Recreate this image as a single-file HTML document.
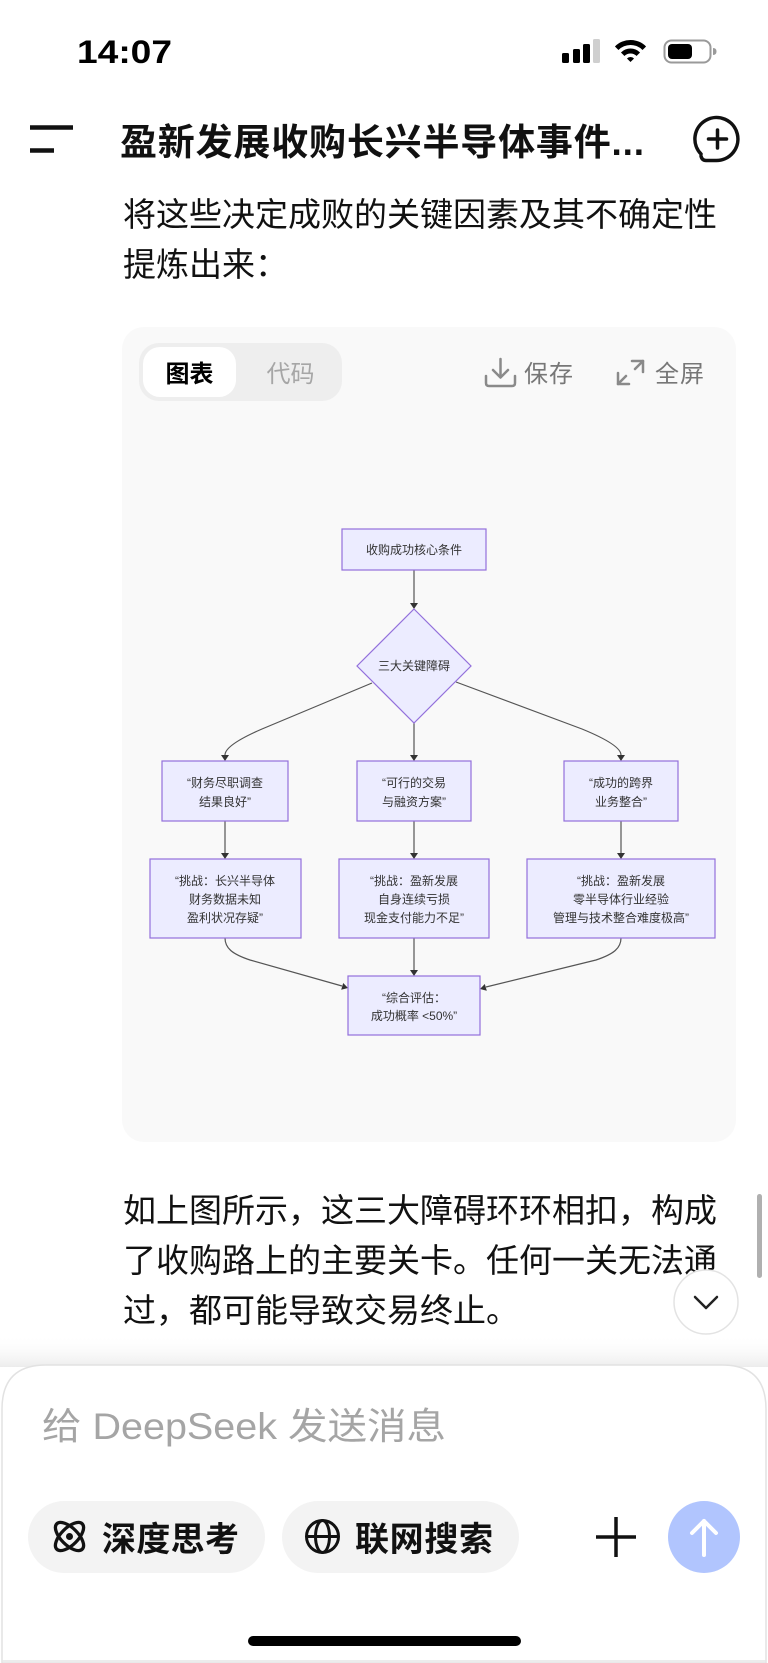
<!DOCTYPE html>
<html>
<head>
<meta charset="utf-8">
<style>
  html,body{margin:0;padding:0;background:#fff;}
  body{width:768px;height:1663px;overflow:hidden;position:relative;}
  svg{position:absolute;left:0;top:0;display:block;}
</style>
</head>
<body>
<svg width="768" height="1663" viewBox="0 0 768 1663" xmlns="http://www.w3.org/2000/svg" font-family="'Liberation Sans','Noto Sans CJK SC',sans-serif">
  <defs>
    <linearGradient id="fade" x1="0" y1="0" x2="0" y2="1">
      <stop offset="0" stop-color="#ffffff" stop-opacity="0"/>
      <stop offset="1" stop-color="#ececec" stop-opacity="1"/>
    </linearGradient>
  </defs>

  <!-- Status bar -->
  <text x="77" y="63" font-size="32" font-weight="700" fill="#000" textLength="95" lengthAdjust="spacingAndGlyphs">14:07</text>
  <rect x="562" y="53" width="7" height="10" rx="1.5" fill="#000"/>
  <rect x="573" y="49" width="7" height="14" rx="1.5" fill="#000"/>
  <rect x="583" y="44" width="7" height="19" rx="1.5" fill="#000"/>
  <rect x="593" y="39" width="7" height="24" rx="1.5" fill="#cfcfcf"/>
  <path d="M614.94,46.44 A22,22 0 0 1 646.06,46.44 L642.52,49.98 A17,17 0 0 0 618.48,49.98 Z" fill="#000"/>
  <path d="M620.95,52.45 A13.5,13.5 0 0 1 640.05,52.45 L636.51,55.99 A8.5,8.5 0 0 0 624.49,55.99 Z" fill="#000"/>
  <path d="M630.5,62 L626.96,58.46 A5,5 0 0 1 634.04,58.46 Z" fill="#000"/>
  <rect x="664.5" y="40.5" width="46" height="22" rx="7" fill="none" stroke="#9a9a9a" stroke-width="2"/>
  <rect x="668" y="44" width="24" height="15" rx="4" fill="#000"/>
  <path d="M713,48 Q716.5,48 716.5,51.5 Q716.5,55 713,55 Z" fill="#9a9a9a"/>

  <!-- Header -->
  <line x1="30" y1="127.5" x2="73" y2="127.5" stroke="#111" stroke-width="4.5"/>
  <line x1="30" y1="150.5" x2="54" y2="150.5" stroke="#111" stroke-width="4.5"/>
  <text x="120" y="155" font-size="37" font-weight="700" fill="#111" textLength="524" lengthAdjust="spacing">盈新发展收购长兴半导体事件...</text>
  <path d="M701,154 A21.5,21.5 0 1 1 716,160.5 L706,160.5 Q702,160.5 701,156" fill="none" stroke="#111" stroke-width="3.5" stroke-linecap="round" stroke-linejoin="round"/>
  <line x1="717.5" y1="130" x2="717.5" y2="148" stroke="#111" stroke-width="3.5" stroke-linecap="round"/>
  <line x1="708.5" y1="139" x2="726.5" y2="139" stroke="#111" stroke-width="3.5" stroke-linecap="round"/>

  <!-- Paragraph 1 -->
  <text x="123" y="226" font-size="33" fill="#111" textLength="594" lengthAdjust="spacing">将这些决定成败的关键因素及其不确定性</text>
  <text x="123" y="276" font-size="33" fill="#111">提炼出来：</text>

  <!-- Card -->
  <rect x="122" y="327" width="614" height="815" rx="22" fill="#f9f9f9"/>
  <rect x="139" y="343" width="203" height="58" rx="20" fill="#eeeeee"/>
  <rect x="143" y="347" width="93" height="50" rx="17" fill="#ffffff"/>
  <text x="189.5" y="382" font-size="24" font-weight="700" fill="#000" text-anchor="middle">图表</text>
  <text x="290.5" y="382" font-size="24" fill="#a6a6a6" text-anchor="middle">代码</text>

  <!-- save icon -->
  <g fill="none" stroke="#8a8a8a" stroke-width="2.5" stroke-linecap="round" stroke-linejoin="round">
    <line x1="500.5" y1="359" x2="500.5" y2="377"/>
    <polyline points="493,370 500.5,377.5 508,370"/>
    <path d="M486,376 L486,383 Q486,386 489,386 L512,386 Q515,386 515,383 L515,376"/>
  </g>
  <text x="524" y="382" font-size="24" fill="#777" textLength="49" lengthAdjust="spacing">保存</text>
  <!-- expand icon -->
  <g fill="none" stroke="#8a8a8a" stroke-width="2.5" stroke-linecap="round" stroke-linejoin="round">
    <polyline points="632,361 643,361 643,372"/>
    <line x1="643" y1="361" x2="635" y2="369"/>
    <polyline points="618,373 618,384 629,384"/>
    <line x1="618" y1="384" x2="626" y2="376"/>
  </g>
  <text x="655" y="382" font-size="24" fill="#777" textLength="49" lengthAdjust="spacing">全屏</text>

  <!-- Diagram connectors -->
  <g fill="none" stroke="#555" stroke-width="1.2">
    <path d="M414,570 L414,603"/>
    <path d="M372,683 L262,729 Q225,745 225,755"/>
    <path d="M414,723 L414,755"/>
    <path d="M456,682 L582,729 Q621,745 621,755"/>
    <path d="M225,821 L225,853"/>
    <path d="M414,821 L414,853"/>
    <path d="M621,821 L621,853"/>
    <path d="M225,938 C225,948 232,954 250,960 L342,986"/>
    <path d="M414,938 L414,970"/>
    <path d="M621,938 C621,948 614,954 596,960 L486,987"/>
  </g>
  <g fill="#333">
    <polygon points="410,603 418,603 414,609"/>
    <polygon points="221,755 229,755 225,761"/>
    <polygon points="410,755 418,755 414,761"/>
    <polygon points="617,755 625,755 621,761"/>
    <polygon points="221,853 229,853 225,859"/>
    <polygon points="410,853 418,853 414,859"/>
    <polygon points="617,853 625,853 621,859"/>
    <polygon points="410,970 418,970 414,976"/>
    <polygon points="348,988 341.2,989.7 343.2,983"/>
    <polygon points="480,989 486.8,990.7 484.8,984"/>
  </g>

  <!-- Diagram nodes -->
  <g fill="#ECECFF" stroke="#9370DB" stroke-width="1.2">
    <rect x="342" y="529" width="144" height="41"/>
    <polygon points="414,609 471,666 414,723 357,666"/>
    <rect x="162" y="761" width="126" height="60"/>
    <rect x="357" y="761" width="114" height="60"/>
    <rect x="564" y="761" width="114" height="60"/>
    <rect x="150" y="859" width="151" height="79"/>
    <rect x="339" y="859" width="150" height="79"/>
    <rect x="527" y="859" width="188" height="79"/>
    <rect x="348" y="976" width="132" height="59"/>
  </g>
  <g font-size="12" fill="#333" text-anchor="middle">
    <text x="414" y="554">收购成功核心条件</text>
    <text x="414" y="670">三大关键障碍</text>
    <text x="225" y="787">“财务尽职调查</text>
    <text x="225" y="806">结果良好”</text>
    <text x="414" y="787">“可行的交易</text>
    <text x="414" y="806">与融资方案”</text>
    <text x="621" y="787">“成功的跨界</text>
    <text x="621" y="806">业务整合”</text>
    <text x="225" y="885">“挑战：长兴半导体</text>
    <text x="225" y="903.5">财务数据未知</text>
    <text x="225" y="922">盈利状况存疑”</text>
    <text x="414" y="885">“挑战：盈新发展</text>
    <text x="414" y="903.5">自身连续亏损</text>
    <text x="414" y="922">现金支付能力不足”</text>
    <text x="621" y="885">“挑战：盈新发展</text>
    <text x="621" y="903.5">零半导体行业经验</text>
    <text x="621" y="922">管理与技术整合难度极高”</text>
    <text x="414" y="1002">“综合评估：</text>
    <text x="414" y="1020">成功概率 &lt;50%”</text>
  </g>

  <!-- Paragraph 2 -->
  <text x="123" y="1222" font-size="33" fill="#111" textLength="594" lengthAdjust="spacing">如上图所示，这三大障碍环环相扣，构成</text>
  <text x="123" y="1272" font-size="33" fill="#111" textLength="594" lengthAdjust="spacing">了收购路上的主要关卡。任何一关无法通</text>
  <text x="123" y="1322" font-size="33" fill="#111">过，都可能导致交易终止。</text>

  <!-- Scrollbar -->
  <rect x="757" y="1194" width="5" height="84" rx="2.5" fill="#b0b0b0"/>
  <!-- Scroll down button -->
  <circle cx="706" cy="1302" r="32" fill="#ffffff" stroke="#e3e3e3" stroke-width="1.5"/>
  <polyline points="695,1297 706,1308 717,1297" fill="none" stroke="#222" stroke-width="2.5" stroke-linecap="round" stroke-linejoin="round"/>

  <!-- Bottom panel -->
  <rect x="0" y="1335" width="768" height="32" fill="url(#fade)"/>
  <path d="M2,1663 L2,1409 Q2,1365 46,1365 L722,1365 Q766,1365 766,1409 L766,1663 Z" fill="#ffffff" stroke="#e2e2e2" stroke-width="1.5"/>
  <line x1="2" y1="1661" x2="766" y2="1661" stroke="#e6e6e6" stroke-width="1.5"/>
  <text x="42" y="1439" font-size="37" fill="#a5a5a5" textLength="404" lengthAdjust="spacingAndGlyphs">给 DeepSeek 发送消息</text>

  <rect x="28" y="1501" width="237" height="72" rx="36" fill="#f3f3f3"/>
  <rect x="282" y="1501" width="237" height="72" rx="36" fill="#f3f3f3"/>
  <!-- atom icon -->
  <g fill="none" stroke="#111" stroke-width="3.3">
    <ellipse cx="69.5" cy="1536.5" rx="18" ry="8.5" transform="rotate(45 69.5 1536.5)"/>
    <ellipse cx="69.5" cy="1536.5" rx="18" ry="8.5" transform="rotate(-45 69.5 1536.5)"/>
  </g>
  <circle cx="69.5" cy="1536.5" r="3.5" fill="#111"/>
  <text x="102" y="1551" font-size="34" font-weight="700" fill="#111" textLength="137" lengthAdjust="spacing">深度思考</text>
  <!-- globe icon -->
  <g fill="none" stroke="#111" stroke-width="3">
    <circle cx="322.5" cy="1536.5" r="16"/>
    <ellipse cx="322.5" cy="1536.5" rx="7" ry="16"/>
    <line x1="306.5" y1="1536.5" x2="338.5" y2="1536.5"/>
  </g>
  <text x="355" y="1551" font-size="34" font-weight="700" fill="#111" textLength="138" lengthAdjust="spacing">联网搜索</text>

  <!-- plus -->
  <line x1="616" y1="1517" x2="616" y2="1557" stroke="#111" stroke-width="3.5"/>
  <line x1="596" y1="1537" x2="636" y2="1537" stroke="#111" stroke-width="3.5"/>
  <!-- send -->
  <circle cx="704" cy="1537" r="36" fill="#b1c5fe"/>
  <g fill="none" stroke="#ffffff" stroke-width="4" stroke-linecap="round" stroke-linejoin="round">
    <line x1="704" y1="1555" x2="704" y2="1521"/>
    <polyline points="692,1533 704,1521 716,1533"/>
  </g>

  <!-- home indicator -->
  <rect x="248" y="1636" width="273" height="10" rx="5" fill="#000"/>
</svg>
</body>
</html>
